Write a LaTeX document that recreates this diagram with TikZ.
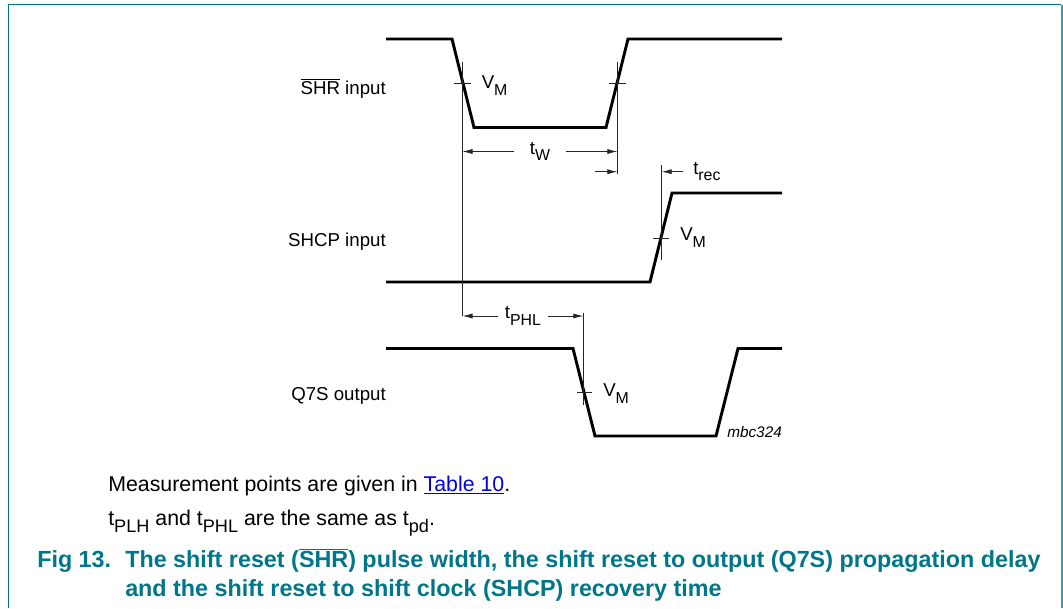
\documentclass[tikz,border=0pt]{standalone}
\usepackage{fontspec}
\setmainfont{Liberation Sans}
\usepackage{graphicx}
\usetikzlibrary{arrows.meta,positioning}
\definecolor{nxpteal}{RGB}{0,118,138}
\definecolor{nxpside}{RGB}{64,152,168}
\definecolor{linkblue}{RGB}{0,0,230}
\newcommand{\lo}[1]{\raisebox{-0.34em}{\scalebox{0.85}{#1}}}
\newcommand{\barname}[1]{$\overline{\mbox{#1}}$}

\begin{document}
\begin{tikzpicture}[x=0.75pt,y=-0.75pt,
        wave/.style={line width=2.2pt,line join=miter},
        guide/.style={line width=0.55pt,black!85},
        dim/.style={guide,-{Latex[length=7.5pt,width=3.8pt]}},
        sig/.style={font=\fontsize{14}{16}\selectfont,inner sep=0pt,anchor=base east},
        lvl/.style={font=\fontsize{14}{16}\selectfont,inner sep=0pt},
        note/.style={font=\fontsize{16}{19}\selectfont,inner sep=0pt,anchor=base west},
        caption/.style={font=\fontsize{17.5}{21}\selectfont\bfseries,text=nxpteal,inner sep=0pt,anchor=base west}]
        \useasboundingbox (0,0) rectangle (1063,608);
        % frame
        \draw[nxpteal,line width=1.1pt] (8.5,608) -- (8.5,4.5) -- (1061,4.5);
        \draw[nxpside,line width=1.5pt] (1062,4.5) -- (1062,608);
        % signal names
        \node[sig] at (386,94) (shr) {\barname{SHR} input};
        \node[sig] at (386,246) (shcp) {SHCP input};
        \node[sig] at (386,400) (q7s) {Q7S output};
        % waveforms
        \draw[wave] (386,39) -- (452,39) -- (474,127.5) -- (606,127.5) -- (628,39) -- (782,39);
        \draw[wave] (386,282) -- (650,282) -- (672,193) -- (782,193);
        \draw[wave] (386,348.5) -- (573,348.5) -- (595,436) -- (716,436) -- (738,348.5) -- (782,348.5);
        % reference lines
        \coordinate (fallT) at (462.5,61.7);
        \coordinate (fallB) at (462.5,316);
        \coordinate (riseT) at (617.3,61.7);
        \coordinate (riseB) at (617.3,173.5);
        \coordinate (clkT) at (661.7,165);
        \coordinate (clkB) at (661.7,259.5);
        \coordinate (outT) at (583.3,312.5);
        \coordinate (outB) at (583.3,405);
        \draw[guide] (fallT) -- (fallB);
        \draw[guide] (riseT) -- (riseB);
        \draw[guide] (clkT) -- (clkB);
        \draw[guide] (outT) -- (outB);
        % V_M marks
        \draw[guide] (454,83.3) -- (471,83.3);
        \draw[guide] (609,83.3) -- (626,83.3);
        \draw[guide] (653,238) -- (669,238);
        \draw[guide] (577,392) -- (592,392);
        \node[lvl,anchor=west] at (481.5,85.5) (vm1) {V\lo{M}};
        \node[lvl,anchor=west] at (680,237.5) (vm2) {V\lo{M}};
        \node[lvl,anchor=west] at (603,393.5) (vm3) {V\lo{M}};
        % t_W
        \node[lvl] at (540,151.5) (tw) {t\lo{W}};
        \draw[dim] (tw.west) ++(-16,0) coordinate (twl) -- (twl -| fallT);
        \draw[dim] (tw.east) ++(16,0) coordinate (twr) -- (twr -| riseT);
        % t_rec
        \coordinate (recl) at (595,171.7);
        \coordinate (recr) at (683.3,171.7);
        \draw[dim] (recl) -- (recl -| riseT);
        \draw[dim] (recr) -- (recr -| clkT);
        \node[lvl,anchor=west] at (693,171.5) (trec) {t\lo{rec}};
        % t_PHL
        \node[lvl] at (523,316) (tphl) {t\lo{PHL}};
        \draw[dim] (tphl.west) ++(-7,0) coordinate (phll) -- (phll -| fallT);
        \draw[dim] (tphl.east) ++(7,0) coordinate (phlr) -- (phlr -| outT);
        \node[font=\fontsize{11.5}{14}\selectfont\itshape,inner sep=0pt,anchor=west] at (727,432) (code) {mbc324};
        % notes and caption
        \node[note] at (108,491.5) (meas) {Measurement points are given in \textcolor{linkblue}{\underline{Table 10}}.};
        \node[note] at (108,525.5) (same) {t\lo{PLH} and t\lo{PHL} are the same as t\lo{pd}.};
        \node[caption] at (37,567) (fig) {Fig 13.};
        \node[caption] at (125,567) (cap1) {The shift reset (\barname{SHR}) pulse width, the shift reset to output (Q7S) propagation delay};
        \node[caption] at (125,596) (cap2) {and the shift reset to shift clock (SHCP) recovery time};
      \end{tikzpicture}
\end{document}
